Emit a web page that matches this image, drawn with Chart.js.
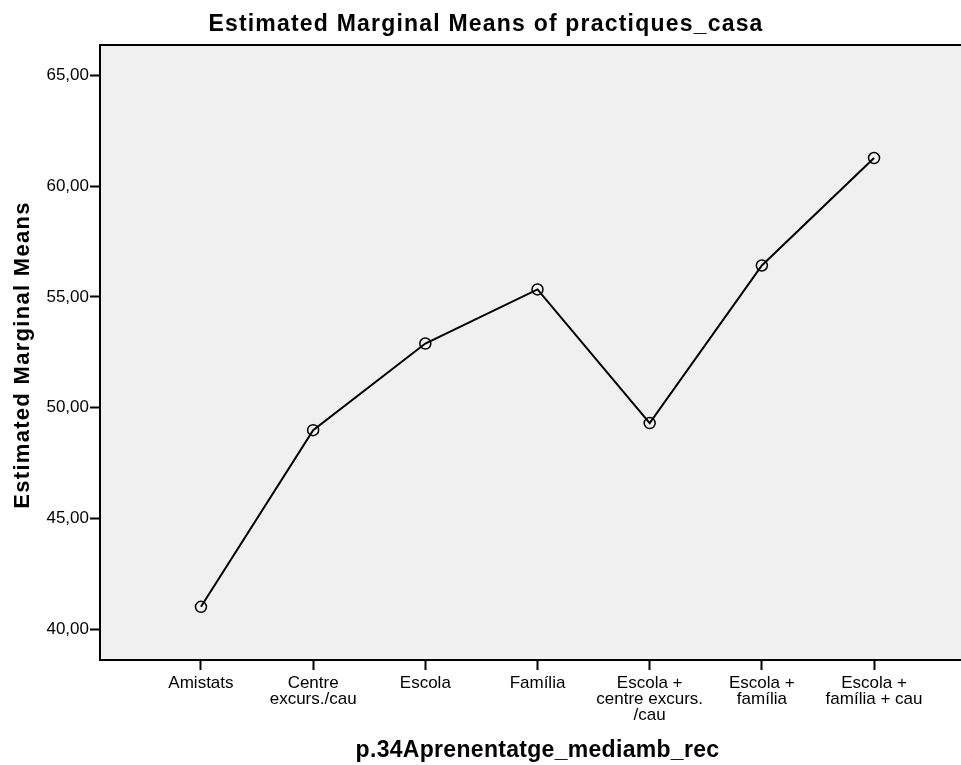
<!DOCTYPE html>
<html>
<head>
<meta charset="utf-8">
<script src="https://cdn.jsdelivr.net/npm/chart.js@4"></script>
<style>
  html, body { margin: 0; padding: 0; background: #fff; overflow: hidden; width: 961px; height: 765px; }
  canvas { display: block; }
</style>
</head>
<body>
<canvas id="emmChart" width="982" height="765"></canvas>
<script>
// categories of p.34Aprenentatge_mediamb_rec
const categories = [
    'Amistats',
    ['Centre', 'excurs./cau'],
    'Escola',
    'Família',
    ['Escola +', 'centre excurs.', '/cau'],
    ['Escola +', 'família'],
    ['Escola +', 'família + cau']
];

// estimated marginal means of practiques_casa
const means = [41.02, 48.99, 52.90, 55.34, 49.31, 56.42, 61.27];

// y axis tick values
const yTicks = [40, 45, 50, 55, 60, 65];

const chartTitle = 'Estimated Marginal Means of practiques_casa';
const xTitle = 'p.34Aprenentatge_mediamb_rec';
const yTitle = 'Estimated Marginal Means';

const FONT = "'Liberation Sans', Arial, sans-serif";

// grey plot background + black frame
const plotFrame = {
    id: 'plotFrame',
    beforeDatasetsDraw(chart) {
        const { ctx, chartArea: a } = chart;
        ctx.save();
        ctx.fillStyle = '#f0f0f0';
        ctx.fillRect(a.left, a.top, a.right - a.left, a.bottom - a.top);
        ctx.restore();
    },
    afterDraw(chart) {
        const { ctx, chartArea: a } = chart;
        ctx.save();
        ctx.strokeStyle = '#000';
        ctx.lineWidth = 2;
        ctx.strokeRect(a.left, a.top, a.right - a.left, a.bottom - a.top);
        ctx.restore();
    }
};

// titles drawn by hand so the wide SPSS lettering can be matched
const wideTitles = {
    id: 'wideTitles',
    afterDraw(chart) {
        const { ctx, chartArea: a } = chart;
        ctx.save();
        ctx.fillStyle = '#000';
        ctx.textAlign = 'center';
        ctx.textBaseline = 'alphabetic';

        ctx.font = 'bold 23px ' + FONT;
        ctx.letterSpacing = '1.2px';
        ctx.fillText(chartTitle, 486, 31);

        ctx.letterSpacing = '0.3px';
        ctx.fillText(xTitle, (a.left + a.right) / 2, 757);

        ctx.font = 'bold 22px ' + FONT;
        ctx.letterSpacing = '1.3px';
        ctx.translate(29, 355);
        ctx.rotate(-Math.PI / 2);
        ctx.fillText(yTitle, 0, 0);
        ctx.restore();
    }
};

const ctx = document.getElementById('emmChart').getContext('2d');
new Chart(ctx, {
    type: 'line',
    data: {
        datasets: [{
            data: means.map((v, i) => ({ x: i, y: v })),
            borderColor: '#000',
            borderWidth: 2,
            pointRadius: 5.5,
            pointBorderWidth: 1.5,
            pointBorderColor: '#000',
            pointBackgroundColor: 'rgba(0,0,0,0)',
            tension: 0,
            fill: false
        }]
    },
    options: {
        responsive: false,
        animation: false,
        events: [],
        layout: { padding: { top: 45 } },
        plugins: {
            legend: { display: false },
            tooltip: { enabled: false },
            title: { display: false }
        },
        scales: {
            x: {
                type: 'linear',
                position: 'bottom',
                min: -0.9,
                max: 6.9,
                afterBuildTicks(scale) {
                    scale.ticks = categories.map((c, i) => ({ value: i }));
                },
                afterFit(scale) { scale.height = 105; },
                ticks: {
                    autoSkip: false,
                    maxRotation: 0,
                    padding: 5,
                    color: '#000',
                    font: { family: FONT, size: 17, lineHeight: 0.95 },
                    callback: (v) => categories[v]
                },
                grid: {
                    drawOnChartArea: false,
                    drawTicks: true,
                    tickLength: 10,
                    tickWidth: 2,
                    tickColor: '#000'
                },
                border: { display: false }
            },
            y: {
                min: 38.62,
                max: 66.37,
                afterBuildTicks(scale) {
                    scale.ticks = yTicks.map(v => ({ value: v }));
                },
                afterFit(scale) { scale.width = 100; },
                ticks: {
                    padding: 1,
                    color: '#000',
                    font: { family: FONT, size: 17 },
                    callback: (v) => v.toFixed(2).replace('.', ',')
                },
                grid: {
                    drawOnChartArea: false,
                    drawTicks: true,
                    tickLength: 10,
                    tickWidth: 2,
                    tickColor: '#000'
                },
                border: { display: false }
            }
        }
    },
    plugins: [plotFrame, wideTitles]
});
</script>
</body>
</html>
